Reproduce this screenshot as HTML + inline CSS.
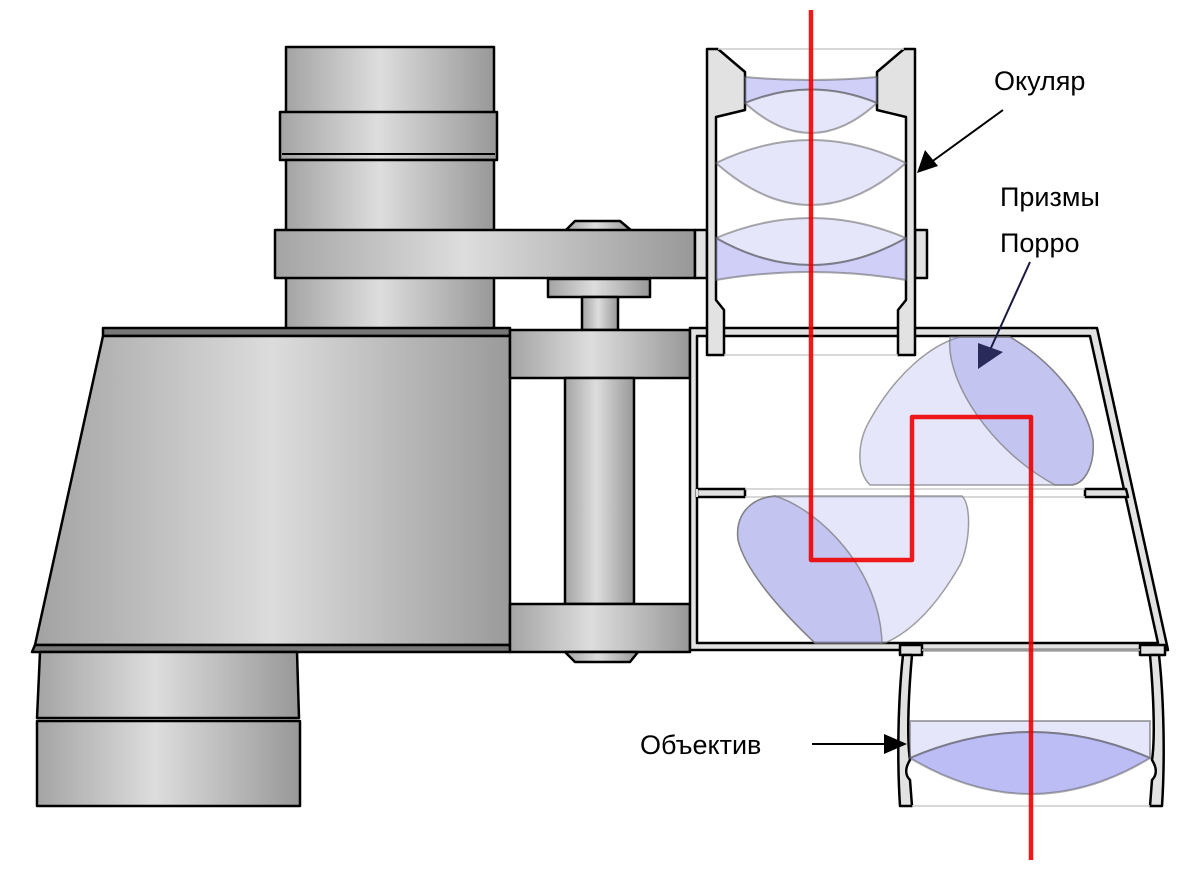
<!DOCTYPE html>
<html><head><meta charset="utf-8"><style>html,body{margin:0;padding:0;background:#fff}svg{display:block}</style></head>
<body>
<svg width="1200" height="880" viewBox="0 0 1200 880" xmlns="http://www.w3.org/2000/svg">
<defs>
<linearGradient id="m" x1="0" y1="0" x2="1" y2="0">
<stop offset="0" stop-color="#a4a4a4"/><stop offset="0.45" stop-color="#dddddd"/><stop offset="1" stop-color="#989898"/>
</linearGradient>
<linearGradient id="b" x1="0" y1="0" x2="1" y2="0">
<stop offset="0" stop-color="#a2a2a2"/><stop offset="0.5" stop-color="#dcdcdc"/><stop offset="1" stop-color="#9a9a9a"/>
</linearGradient>
</defs>
<g stroke="#000" stroke-width="2.5" stroke-linejoin="round">
<!-- upper tube -->
<rect x="286" y="47" width="208" height="66" fill="url(#m)"/>
<rect x="280" y="112" width="217" height="48" fill="url(#m)"/>
<line x1="282" y1="154" x2="495" y2="154" stroke-width="2"/>
<rect x="286" y="160" width="208" height="72" fill="url(#m)"/>
<rect x="286" y="276" width="208" height="54" fill="url(#m)"/>
<!-- hinge knob top -->
<path d="M565,231 L575,221 L620,221 L632,231 Z" fill="url(#m)"/>
<rect x="275" y="230" width="420" height="48" fill="url(#m)"/>
<rect x="548" y="279" width="102" height="18" fill="url(#m)"/>
<rect x="582" y="297" width="36" height="33" fill="url(#m)"/>
<!-- main body -->
<path d="M103,328 L510,328 L510,336 L103,336 Z" fill="#777"/>
<path d="M103,336 L510,336 L510,645 L35,645 Z" fill="url(#b)"/>
<path d="M35,645 L510,645 L510,652 L32,652 Z" fill="#777"/>
<path d="M40,652 L297,652 L299,718 L37,718 Z" fill="url(#m)"/>
<rect x="37" y="721" width="263" height="85" fill="url(#m)"/>
<!-- hinge blocks -->
<rect x="510" y="330" width="180" height="48" fill="url(#m)"/>
<rect x="565" y="378" width="69" height="226" fill="url(#m)"/>
<rect x="510" y="604" width="180" height="48" fill="url(#m)"/>
<path d="M565,652 L575,662 L630,662 L638,652 Z" fill="url(#m)"/>
<!-- right housing -->
<path d="M690,328 L1097,328 L1168,650 L690,650 Z" fill="#e2e2e2"/>
<path d="M697,336 L1090,336 L1158,643 L697,643 Z" fill="#fff"/>
<rect x="697" y="489" width="48" height="8" fill="#e2e2e2"/>
<path d="M1085,489 L1126,489 L1128,497 L1085,497 Z" fill="#e2e2e2"/>
<line x1="745" y1="489" x2="1085" y2="489" stroke="#ccc" stroke-width="1.5"/>
<line x1="745" y1="497" x2="1085" y2="497" stroke="#ccc" stroke-width="1.5"/>
<path d="M697,489 L697,497" stroke="#e2e2e2" stroke-width="2"/>
<rect x="900" y="645" width="22" height="10" fill="#e2e2e2"/>
<rect x="1140" y="645" width="25" height="10" fill="#e2e2e2"/>
<line x1="922" y1="650" x2="1140" y2="650" stroke="#ccc" stroke-width="1.5"/>
</g>
<!-- prisms -->
<g stroke="#777" stroke-opacity="0.7" stroke-width="1.5">
<path d="M870,485 C855,470 858,440 870,420 C895,375 930,345 960,337 L1010,337 C1050,360 1085,400 1093,440 C1095,465 1085,485 1070,485 Z" fill="#b8b8f0" fill-opacity="0.35"/>
<path d="M950,337 C945,380 990,450 1055,485 L1070,485 C1085,485 1095,465 1093,440 C1085,400 1050,360 1010,337 Z" fill="#9090e0" fill-opacity="0.4"/>
<path d="M775,496 L962,496 C972,505 970,545 960,565 C940,600 915,630 885,643 L815,643 C780,610 745,570 738,540 C735,515 750,498 775,496 Z" fill="#b8b8f0" fill-opacity="0.35"/>
<path d="M775,496 C820,510 880,570 882,643 L815,643 C780,610 745,570 738,540 C735,515 750,498 775,496 Z" fill="#9090e0" fill-opacity="0.4"/>
</g>
<!-- eyepiece -->
<g stroke="#000" stroke-width="2.5" stroke-linejoin="round">
<rect x="695" y="230" width="12" height="48" fill="#e2e2e2"/>
<rect x="915" y="230" width="12" height="48" fill="#e2e2e2"/>
<path id="ew" d="M707,49 L718,49 L745,72 L745,110 L716,117 L716,300 L724,310 L724,355 L707,355 Z" fill="#e2e2e2"/>
<path d="M707,49 L718,49 L745,72 L745,110 L716,117 L716,300 L724,310 L724,355 L707,355 Z" fill="#e2e2e2" transform="translate(1622,0) scale(-1,1)"/>
</g>
<line x1="718" y1="49" x2="904" y2="49" stroke="#ccc" stroke-width="1.5"/>
<line x1="724" y1="355" x2="898" y2="355" stroke="#ccc" stroke-width="1.5"/>
<g stroke="#555" stroke-opacity="0.5" stroke-width="2">
<path d="M745,77 Q811,83 877,77 L877,103 Q811,76 745,103 Z" fill="#a0a0f0" fill-opacity="0.5"/>
<path d="M745,103 Q811,76 877,103 Q811,163 745,103 Z" fill="#c8c8f5" fill-opacity="0.45"/>
<path d="M716,163 Q811,117 906,163 Q811,247 716,163 Z" fill="#c8c8f5" fill-opacity="0.45"/>
<path d="M716,238 Q811,198 906,238 Q811,292 716,238 Z" fill="#c8c8f5" fill-opacity="0.45"/>
<path d="M716,238 Q811,292 906,238 L906,280 Q811,264 716,280 Z" fill="#a0a0f0" fill-opacity="0.5"/>
</g>
<!-- objective -->
<g stroke="#000" stroke-width="2.5" stroke-linejoin="round">
<path d="M903,655 L912,655 C908,700 907,740 910,760 C905,768 905,775 910,780 L912,806 L900,806 C897,760 898,700 903,655 Z" fill="#e2e2e2"/>
<path d="M903,655 L912,655 C908,700 907,740 910,760 C905,768 905,775 910,780 L912,806 L900,806 C897,760 898,700 903,655 Z" fill="#e2e2e2" transform="translate(2062,0) scale(-1,1)"/>
</g>
<line x1="912" y1="806" x2="1150" y2="806" stroke="#ccc" stroke-width="1.5"/>
<g stroke="#555" stroke-opacity="0.5" stroke-width="2">
<path d="M910,721 L1150,721 L1150,758 Q1031,706 910,758 Z" fill="#c8c8f5" fill-opacity="0.45"/>
<path d="M910,758 Q1031,706 1150,758 Q1031,830 910,758 Z" fill="#9a9af0" fill-opacity="0.65"/>
</g>
<!-- light path -->
<path d="M811,10 L811,560 L912,560 L912,417 L1031,417 L1031,860" fill="none" stroke="#ee0000" stroke-opacity="0.9" stroke-width="4.5" stroke-linejoin="round"/>
<!-- labels -->
<g font-family="'Liberation Sans', 'DejaVu Sans', sans-serif" font-size="27" fill="#000">
<text x="994" y="90">Окуляр</text>
<text x="1000" y="206">Призмы</text>
<text x="1000" y="252">Порро</text>
<text x="640" y="754">Объектив</text>
</g>
<g stroke="#000" stroke-width="2">
<line x1="1003" y1="110" x2="930" y2="163"/>
<line x1="1030" y1="262" x2="990" y2="350" stroke="#1a1a40"/>
<line x1="812" y1="744" x2="890" y2="744"/>
</g>
<path d="M917,173 L925,150 L938,166 Z" fill="#000"/>
<path d="M978,369 L978,343 L1003,352 Z" fill="#2a2a5a"/>
<path d="M907,744 L884,734 L884,754 Z" fill="#000"/>
</svg>
</body></html>
